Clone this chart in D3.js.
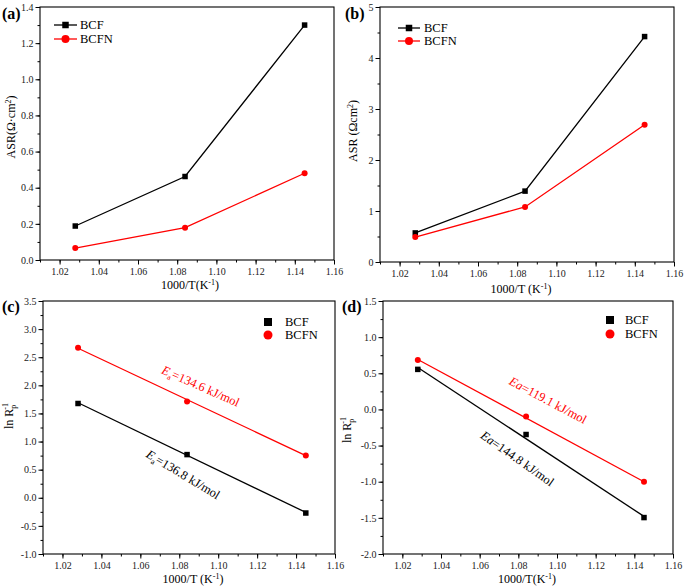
<!DOCTYPE html>
<html><head><meta charset="utf-8">
<script src="https://cdn.jsdelivr.net/npm/d3@7"></script>
<style>body{margin:0;background:#fff}svg{display:block}</style>
</head><body><svg id="c" width="685" height="586"></svg>
<script>
// ---- data ----
const xValues = [1.028, 1.084, 1.145];           // 1000/T (K^-1)
const xTicks = [1.02, 1.04, 1.06, 1.08, 1.10, 1.12, 1.14, 1.16];
const seriesNames = ["BCF", "BCFN"];
// (a) ASR
const asrA_BCF  = [0.188, 0.462, 1.30];
const asrA_BCFN = [0.066, 0.179, 0.480];
// (b) ASR
const asrB_BCF  = [0.57, 1.39, 4.42];
const asrB_BCFN = [0.49, 1.08, 2.69];
// (c) ln Rp^-1
const lnC_BCF  = [1.677, 0.768, -0.271];
const lnC_BCFN = [2.669, 1.713, 0.751];
const fitC_BCF  = [[1.028, 1.69], [1.145, -0.26]];
const fitC_BCFN = [[1.028, 2.66], [1.145, 0.75]];
// (d) ln Rp^-1
const lnD_BCF  = [0.554, -0.347, -1.496];
const lnD_BCFN = [0.683, -0.097, -1.002];
const fitD_BCF  = [[1.028, 0.58], [1.145, -1.48]];
const fitD_BCFN = [[1.028, 0.69], [1.145, -1.00]];
const yTicksA = [0, 0.2, 0.4, 0.6, 0.8, 1.0, 1.2, 1.4];
const yTicksB = [0, 1, 2, 3, 4, 5];
const yTicksC = [-1.0, -0.5, 0.0, 0.5, 1.0, 1.5, 2.0, 2.5, 3.0, 3.5];
const yTicksD = [-2.0, -1.5, -1.0, -0.5, 0.0, 0.5, 1.0, 1.5];
const eaLabels = {c: ["134.6", "136.8"], d: ["119.1", "144.8"]};

const RED = "#ff0000", BLK = "#000000";
const FONT = "'Liberation Serif', 'Times New Roman', Times, serif";
const svg = d3.select("#c").attr("font-family", FONT);

function minorTicks(dom, step){
  const out=[]; const n=Math.round((dom[1]-dom[0])/step);
  for(let i=0;i<=n;i++) out.push(+(dom[0]+i*step).toFixed(4));
  return out;
}

function panel(cfg){
  const g = svg.append("g");
  const x = d3.scaleLinear().domain([1.01, 1.16]).range([cfg.l, cfg.r]);
  const y = d3.scaleLinear().domain(cfg.yDom).range([cfg.b, cfg.t]);
  // minor ticks
  g.append("g").attr("transform",`translate(0,${cfg.b})`)
    .call(d3.axisBottom(x).tickValues(minorTicks([1.01,1.16],0.01)).tickSize(2.5).tickFormat(""))
    .call(a=>a.select(".domain").remove());
  g.append("g").attr("transform",`translate(${cfg.l},0)`)
    .call(d3.axisLeft(y).tickValues(minorTicks(cfg.yDom,cfg.minor)).tickSize(2.5).tickFormat(""))
    .call(a=>a.select(".domain").remove());
  // major
  const xa = g.append("g").attr("transform",`translate(0,${cfg.b})`)
    .call(d3.axisBottom(x).tickValues(xTicks).tickSize(4.5).tickPadding(3).tickFormat(d3.format(".2f")));
  const ya = g.append("g").attr("transform",`translate(${cfg.l},0)`)
    .call(d3.axisLeft(y).tickValues(cfg.yTicks).tickSize(4.5).tickPadding(2)
      .tickFormat(d=>d3.format(cfg.fmt)(d).replace("\u2212","-")));
  [xa,ya].forEach(a=>{
    a.attr("font-family", FONT).attr("font-size", 10);
    a.selectAll("text").attr("fill","#222");
    a.selectAll("line").attr("stroke","#000");
    a.select(".domain").remove();
  });
  // frame
  g.append("rect").attr("x",cfg.l).attr("y",cfg.t).attr("width",cfg.r-cfg.l).attr("height",cfg.b-cfg.t)
    .attr("fill","none").attr("stroke","#000").attr("stroke-width",1.1);
  // panel label
  g.append("text").attr("x",cfg.lab[0]).attr("y",cfg.lab[1]).attr("font-size",16).attr("font-weight","bold").text(cfg.name);
  // x title
  const xt = g.append("text").attr("x",cfg.xt[0]).attr("y",cfg.xt[1]).attr("text-anchor","middle").attr("font-size",12);
  xt.append("tspan").text(cfg.xtSpace?"1000/T (K":"1000/T(K");
  xt.append("tspan").attr("dy",-4).attr("font-size",8).text("-1");
  xt.append("tspan").attr("dy",4).text(")");
  // y title
  const yt = g.append("text").attr("transform",`translate(${cfg.yt[0]},${cfg.yt[1]}) rotate(-90)`)
    .attr("text-anchor","middle").attr("font-size",12);
  cfg.ytParts.forEach(p=>{
    const s = yt.append("tspan").text(p.t);
    if(p.dy) s.attr("dy",p.dy);
    if(p.fs) s.attr("font-size",p.fs);
    if(p.dx) s.attr("dx",p.dx);
  });
  // series
  cfg.series.forEach(s=>{
    const pts = xValues.map((xv,i)=>[xv, s.vals[i]]);
    const linePts = s.fit ? s.fit : pts;
    g.append("path").datum(linePts).attr("fill","none").attr("stroke",s.color).attr("stroke-width",1.3)
      .attr("d", d3.line().x(d=>x(d[0])).y(d=>y(d[1])));
    pts.forEach(p=>drawMarker(g, s.shape, x(p[0]), y(p[1]), s.color, s.ms));
  });
  // legend
  cfg.series.forEach((s,i)=>{
    const ly = cfg.leg.y[i];
    if(cfg.leg.line) g.append("line").attr("x1",cfg.leg.x0).attr("x2",cfg.leg.x1).attr("y1",ly).attr("y2",ly)
      .attr("stroke",s.color).attr("stroke-width",1.3);
    drawMarker(g, s.shape, cfg.leg.mx, ly, s.color, s.shape==="square"?cfg.leg.sq:cfg.leg.ci);
    g.append("text").attr("x",cfg.leg.tx).attr("y",ly+4).attr("font-size",12.5).text(s.name);
  });
  // annotations
  (cfg.ann||[]).forEach(a=>{
    const t = g.append("text").attr("transform",`translate(${a.x},${a.y}) rotate(${a.rot})`)
      .attr("text-anchor","middle").attr("font-size",12.5).attr("fill",a.color);
    if(a.sub){
      t.append("tspan").attr("font-style","italic").text("E");
      t.append("tspan").attr("dy",3).attr("font-size",8).text("a");
      t.append("tspan").attr("dy",-3).text("=" + a.val + " kJ/mol");
    } else {
      t.append("tspan").attr("font-style","italic").text("Ea");
      t.append("tspan").text("=" + a.val + " kJ/mol");
    }
  });
}

function drawMarker(g, shape, cx, cy, color, size){
  if(shape==="square") g.append("rect").attr("x",cx-size/2).attr("y",cy-size/2).attr("width",size).attr("height",size).attr("fill",color);
  else g.append("circle").attr("cx",cx).attr("cy",cy).attr("r",size/2).attr("fill",color);
}

panel({name:"(a)", l:40, r:334, t:7, b:260, yDom:[0,1.4], yTicks:yTicksA, minor:0.1, fmt:".1f",
  lab:[2,19], xt:[190,289], yt:[15,127],
  ytParts:[{t:"ASR(Ω·cm"},{t:"2",dy:-4,fs:8},{t:")",dy:4}],
  series:[{name:seriesNames[0],vals:asrA_BCF,color:BLK,shape:"square",ms:5.5},
          {name:seriesNames[1],vals:asrA_BCFN,color:RED,shape:"circle",ms:6}],
  leg:{line:true,x0:54,x1:77,mx:65.5,y:[25,39],tx:80,sq:6.5,ci:8}});

panel({name:"(b)", l:380, r:674, t:7, b:262, yDom:[0,5], yTicks:yTicksB, minor:0.5, fmt:"d",
  lab:[345,19], xt:[521,293], yt:[357,131], xtSpace:true,
  ytParts:[{t:"ASR (Ωcm"},{t:"2",dy:-4,fs:8},{t:")",dy:4}],
  series:[{name:seriesNames[0],vals:asrB_BCF,color:BLK,shape:"square",ms:5.5},
          {name:seriesNames[1],vals:asrB_BCFN,color:RED,shape:"circle",ms:6}],
  leg:{line:true,x0:398,x1:420,mx:409,y:[28,41],tx:424,sq:6.5,ci:8}});

panel({name:"(c)", l:43, r:335, t:301, b:554, yDom:[-1,3.5], yTicks:yTicksC, minor:0.25, fmt:".1f",
  lab:[2,312], xt:[193,583], yt:[13,416], xtSpace:true,
  ytParts:[{t:"ln R"},{t:"p",dy:3,fs:8},{t:"-1",dy:-8,fs:8,dx:-5}],
  series:[{name:seriesNames[0],vals:lnC_BCF,color:BLK,shape:"square",ms:5.5,fit:fitC_BCF},
          {name:seriesNames[1],vals:lnC_BCFN,color:RED,shape:"circle",ms:6,fit:fitC_BCFN}],
  leg:{line:false,mx:268,y:[322,335],tx:285,sq:8,ci:9},
  ann:[{x:199,y:390,rot:24,color:RED,val:eaLabels.c[0],sub:true},
       {x:181,y:478,rot:31,color:BLK,val:eaLabels.c[1],sub:true}]});

panel({name:"(d)", l:383, r:673, t:301, b:554, yDom:[-2,1.5], yTicks:yTicksD, minor:0.25, fmt:".1f",
  lab:[342,312], xt:[527,583], yt:[351,430],
  ytParts:[{t:"ln R"},{t:"p",dy:3,fs:8},{t:"-1",dy:-8,fs:8,dx:-5}],
  series:[{name:seriesNames[0],vals:lnD_BCF,color:BLK,shape:"square",ms:5.5,fit:fitD_BCF},
          {name:seriesNames[1],vals:lnD_BCFN,color:RED,shape:"circle",ms:6,fit:fitD_BCFN}],
  leg:{line:false,mx:610,y:[320,334],tx:625,sq:8,ci:9},
  ann:[{x:546,y:404,rot:28,color:RED,val:eaLabels.d[0],sub:false},
       {x:515,y:462,rot:35,color:BLK,val:eaLabels.d[1],sub:false}]});
</script></body></html>
